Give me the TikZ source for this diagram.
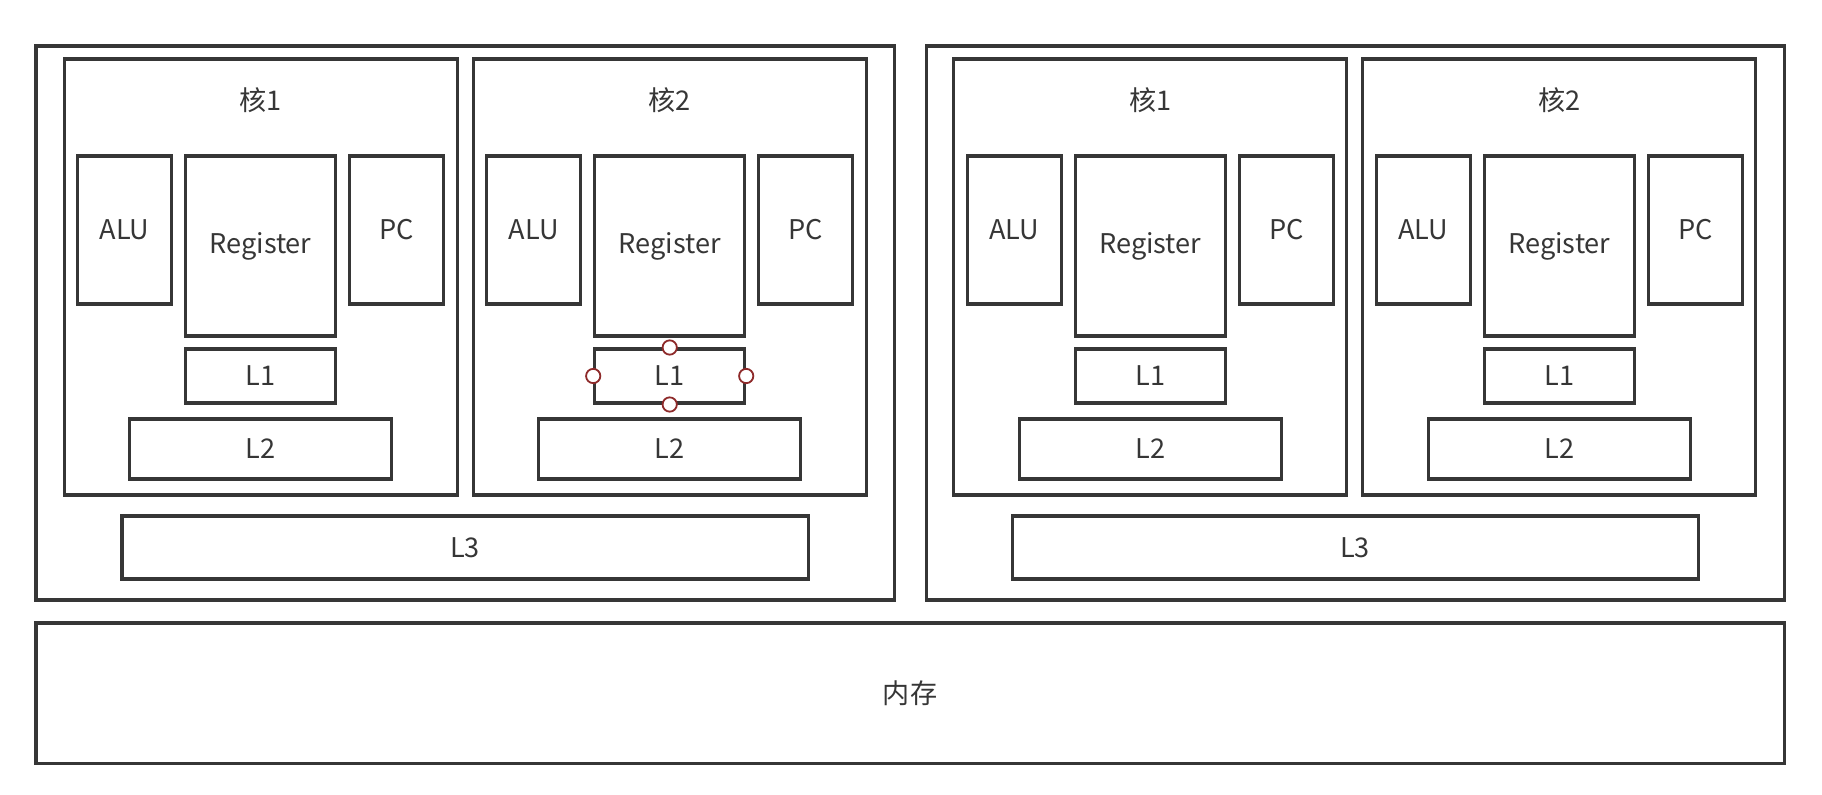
\documentclass[tikz,border=0pt]{standalone}
\usepackage{fontspec}
\setmainfont{Noto Sans CJK SC}
\usetikzlibrary{positioning}
\definecolor{linegray}{HTML}{363636}
\definecolor{handlered}{HTML}{8E2A2A}

\begin{document}
\begin{tikzpicture}[
    box/.style={rectangle, draw=linegray, line width=1.5pt, fill=white, inner sep=0pt, text=linegray, font=\fontsize{13.5}{16}\selectfont},
    cpubox/.style={box, minimum width=15.015cm, minimum height=9.695cm},
    corebox/.style={box, minimum width=6.8775cm, minimum height=7.63cm},
    unitbox/.style={box, minimum width=1.65cm, minimum height=2.59cm},
    regbox/.style={box, minimum width=2.625cm, minimum height=3.15cm},
    lonebox/.style={box, minimum width=2.625cm, minimum height=0.945cm},
    ltwobox/.style={box, minimum width=4.585cm, minimum height=1.05cm},
    lthreebox/.style={box, minimum width=12.005cm, minimum height=1.1025cm},
    membox/.style={box, minimum width=30.59cm, minimum height=2.45cm},
    title/.style={inner sep=1pt, text=linegray, font=\fontsize{13.5}{16}\selectfont},
    handle/.style={circle, draw=handlered, line width=0.9pt, fill=white, inner sep=0pt, minimum size=0.25cm}
]

    \fill[white] (0,0) rectangle (31.885,-13.9125);
    \useasboundingbox (0,0) rectangle (31.885,-13.9125);

    % two processors and the memory
    \node[cpubox] at (8.1375, -5.6525) (cpua) {};
    \node[cpubox] at (23.7125, -5.6525) (cpub) {};
    \node[membox] at (15.925, -12.1275) (mem) {内存};

    % cores of the first processor
    \node[corebox] at (4.56, -4.8475) (corea1) {};
    \node[corebox] at (11.72, -4.8475) (corea2) {};
    \node[title] at (4.56, -1.75) (titlea1) {核1};
    \node[title] at (11.72, -1.75) (titlea2) {核2};

    \node[unitbox] at (2.18, -4.025) (alua1) {ALU};
    \node[regbox]  at (4.56, -4.305) (rega1) {Register};
    \node[unitbox] at (6.94, -4.025) (pca1) {PC};
    \node[lonebox] at (4.56, -6.58) (lonea1) {L1};
    \node[ltwobox] at (4.56, -7.8575) (ltwoa1) {L2};

    \node[unitbox] at (9.34, -4.025) (alua2) {ALU};
    \node[regbox]  at (11.72, -4.305) (rega2) {Register};
    \node[unitbox] at (14.10, -4.025) (pca2) {PC};
    \node[lonebox] at (11.72, -6.58) (lonea2) {L1};
    \node[ltwobox] at (11.72, -7.8575) (ltwoa2) {L2};

    \node[lthreebox] at (8.1375, -9.58125) (lthreea) {L3};

    % cores of the second processor
    \node[corebox] at (20.13, -4.8475) (coreb1) {};
    \node[corebox] at (27.29, -4.8475) (coreb2) {};
    \node[title] at (20.13, -1.75) (titleb1) {核1};
    \node[title] at (27.29, -1.75) (titleb2) {核2};

    \node[unitbox] at (17.75, -4.025) (alub1) {ALU};
    \node[regbox]  at (20.13, -4.305) (regb1) {Register};
    \node[unitbox] at (22.51, -4.025) (pcb1) {PC};
    \node[lonebox] at (20.13, -6.58) (loneb1) {L1};
    \node[ltwobox] at (20.13, -7.8575) (ltwob1) {L2};

    \node[unitbox] at (24.91, -4.025) (alub2) {ALU};
    \node[regbox]  at (27.29, -4.305) (regb2) {Register};
    \node[unitbox] at (29.67, -4.025) (pcb2) {PC};
    \node[lonebox] at (27.29, -6.58) (loneb2) {L1};
    \node[ltwobox] at (27.29, -7.8575) (ltwob2) {L2};

    \node[lthreebox] at (23.7125, -9.58125) (lthreeb) {L3};

    % selection handles on the selected L1
    \node[handle] at (lonea2.north) (hn) {};
    \node[handle] at (lonea2.south) (hs) {};
    \node[handle] at (lonea2.west) (hw) {};
    \node[handle] at (lonea2.east) (he) {};
\end{tikzpicture}
\end{document}
